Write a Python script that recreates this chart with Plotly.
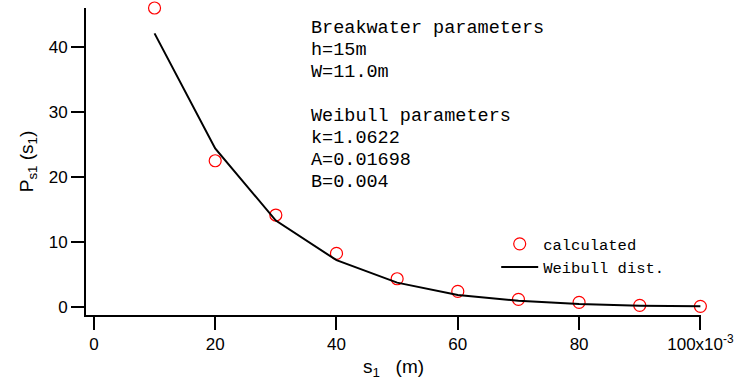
import plotly.graph_objects as go

# Separation distance s1 (x10^-3 m) and probability density values
s1 = [10, 20, 30, 40, 50, 60, 70, 80, 90, 100]
calculated = [46.0, 22.5, 14.15, 8.25, 4.35, 2.4, 1.18, 0.72, 0.26, 0.1]
weibull = [42.1, 24.4, 13.3, 7.2, 3.75, 1.85, 0.97, 0.46, 0.2, 0.1]

x_tickvals = [0, 20, 40, 60, 80, 100]
x_ticktext = ["0", "20", "40", "60", "80", "100x10<sup>-3</sup>"]
y_tickvals = [0, 10, 20, 30, 40]

info_lines = [
    "Breakwater parameters",
    "h=15m",
    "W=11.0m",
    "",
    "Weibull parameters",
    "k=1.0622",
    "A=0.01698",
    "B=0.004",
]

MONO = "Liberation Mono, DejaVu Sans Mono, monospace"
SANS = "Liberation Sans, Arial, sans-serif"

fig = go.Figure()
fig.add_trace(go.Scatter(
    x=s1, y=calculated, mode="markers", name="calculated",
    marker=dict(symbol="circle-open", size=12, color="#ff0000",
                line=dict(width=1.2, color="#ff0000")),
    cliponaxis=False,
))
fig.add_trace(go.Scatter(
    x=s1, y=weibull, mode="lines", name="Weibull dist.",
    line=dict(color="black", width=2),
    cliponaxis=False,
))

# Parameter block, one annotation per line
plot_top, plot_h = 8, 307
for i, txt in enumerate(info_lines):
    if not txt:
        continue
    py = 28 + 22.1 * i
    fig.add_annotation(
        x=35.5, xref="x", xanchor="left",
        y=1 - (py - plot_top) / plot_h, yref="paper", yanchor="middle",
        text=txt, showarrow=False,
        font=dict(family=MONO, size=18.5, color="black"),
    )

fig.update_layout(
    width=737, height=380,
    margin=dict(l=86, r=36, t=8, b=65, autoexpand=False),
    plot_bgcolor="white", paper_bgcolor="white",
    showlegend=True,
    legend=dict(
        x=0.667, y=0.193, xanchor="left", yanchor="middle",
        bgcolor="rgba(0,0,0,0)", font=dict(family=MONO, size=15.5, color="black"),
        traceorder="normal", itemwidth=37,
    ),
    xaxis=dict(
        range=[-1.3, 100.1], showgrid=False, zeroline=False, automargin=False,
        showline=True, linecolor="black", linewidth=2,
        ticks="outside", ticklen=13, tickwidth=2, tickcolor="black",
        tickvals=x_tickvals, ticktext=x_ticktext,
        tickfont=dict(family=SANS, size=17, color="black"),
        title=dict(text="s<sub>1</sub>   (m)", font=dict(family=SANS, size=19, color="black"),
                   standoff=6),
    ),
    yaxis=dict(
        range=[-1.23, 46.0], showgrid=False, zeroline=False, automargin=False,
        showline=True, linecolor="black", linewidth=2,
        ticks="outside", ticklen=13, tickwidth=2, tickcolor="black",
        tickvals=y_tickvals,
        tickfont=dict(family=SANS, size=17, color="black"),
        title=dict(text="P<sub>s1</sub> (s<sub>1</sub>)", font=dict(family=SANS, size=19, color="black"),
                   standoff=10),
    ),
)

fig.write_html("out.html")
